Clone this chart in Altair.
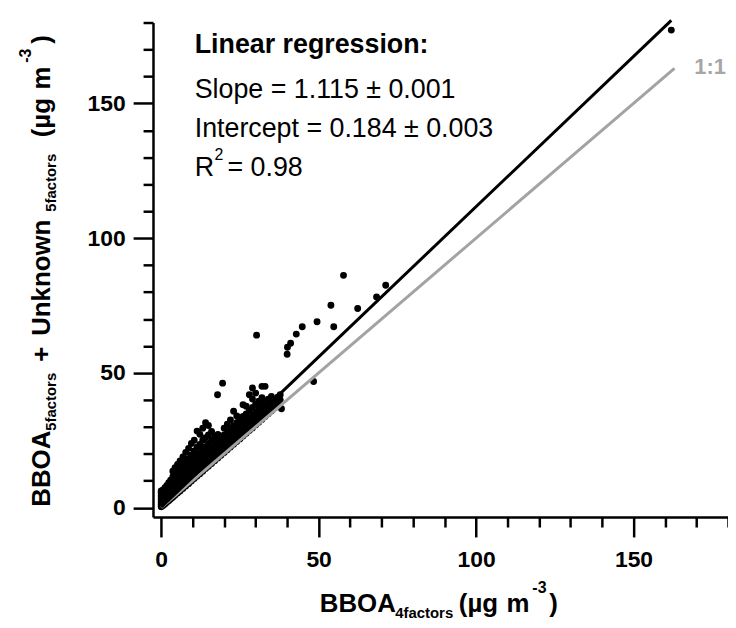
import altair as alt
import pandas as pd

# ---------------- data ----------------
# dense band of points: column x positions and the y values seen at each
band_cols = [0.0, 0.6, 1.2, 1.8, 2.4, 3.0, 3.7, 4.4, 5.2, 6.0, 6.9, 7.8, 8.7, 9.6,
             10.5, 11.4, 12.3, 13.2, 14.1, 15.0, 16.0, 17.0, 18.0, 19.0, 20.0,
             21.0, 22.0, 23.0, 24.0, 25.0, 26.0, 27.0, 28.0, 29.0, 30.0, 31.0,
             32.0, 33.0, 34.0, 35.0, 36.0, 37.0, 37.8]
band_rows = [
    [0.3, 1.2, 2.2, 3.2, 4.3, 5.4, 6.2],
    [0.8, 1.8, 2.8, 3.9, 5.0, 6.6],
    [1.4, 2.4, 3.5, 4.6, 5.8, 7.4],
    [2.0, 3.0, 4.1, 5.3, 6.6, 8.2],
    [2.6, 3.6, 4.7, 6.0, 7.4, 9.3],
    [3.2, 4.2, 5.3, 6.6, 8.1, 10.2],
    [3.9, 4.9, 6.1, 7.4, 9.0, 11.5, 13.5],
    [4.6, 5.6, 6.8, 8.2, 9.9, 12.4, 14.8],
    [5.4, 6.4, 7.7, 9.1, 11.0, 13.4, 16.0],
    [6.2, 7.3, 8.5, 10.0, 12.0, 14.5, 17.3],
    [7.1, 8.2, 9.5, 11.1, 13.0, 15.8, 18.8],
    [8.0, 9.1, 10.5, 12.1, 14.2, 17.0, 20.5],
    [8.9, 10.1, 11.5, 13.2, 15.3, 18.2, 22.0],
    [9.9, 11.1, 12.6, 14.3, 16.6, 19.6, 23.8],
    [10.8, 12.1, 13.6, 15.5, 17.8, 21.0, 25.0],
    [11.7, 13.0, 14.6, 16.6, 19.0, 22.4, 28.4],
    [12.6, 14.0, 15.7, 17.7, 20.2, 23.5, 27.2],
    [13.5, 14.9, 16.7, 18.8, 21.5, 25.0, 29.5],
    [14.5, 15.9, 17.7, 19.9, 22.6, 26.0, 31.5],
    [15.4, 16.9, 18.7, 21.0, 23.8, 27.0, 30.5],
    [16.4, 17.9, 19.8, 22.2, 25.0, 28.3],
    [17.4, 19.0, 21.0, 23.4, 26.4],
    [18.4, 20.0, 22.1, 24.6, 27.2],
    [19.4, 21.1, 23.2, 25.8, 26.5],
    [20.5, 22.2, 24.4, 27.0, 29.5],
    [21.5, 23.3, 25.5, 28.2, 31.0],
    [22.5, 24.4, 26.6, 29.3, 32.5],
    [23.5, 25.4, 27.7, 30.4, 35.8],
    [24.5, 26.5, 28.8, 31.5, 34.0],
    [25.5, 27.6, 30.0, 32.7],
    [26.6, 28.6, 31.0, 33.8, 38.2],
    [27.6, 29.7, 32.1, 34.8, 37.6],
    [28.6, 30.8, 33.2, 36.0, 41.9],
    [29.6, 31.8, 34.3, 37.2, 40.3, 44.4],
    [30.7, 32.9, 35.4, 38.4, 42.5],
    [31.7, 34.0, 36.6, 39.5],
    [32.7, 35.2, 37.8, 40.8, 45.0],
    [33.8, 36.3, 39.0, 45.0],
    [34.8, 37.5, 40.2],
    [35.9, 38.6, 41.3],
    [37.0, 39.8],
    [38.5, 41.0],
    [40.0, 41.9],
]

# isolated points
out_x = [57.9, 71.3, 68.4, 53.9, 62.4, 49.5, 44.8, 54.8, 42.9, 30.3, 41.1, 40.1,
         40.0, 48.4, 38.2, 19.5, 17.9, 162.0]
out_y = [86.2, 82.5, 78.2, 75.1, 73.9, 69.0, 67.1, 67.1, 64.4, 64.0, 61.0, 59.5,
         56.9, 46.8, 36.7, 46.2, 41.9, 177.2]

# regression and 1:1 lines
slope = 1.115
intercept = 0.184
fit_x = [0.0, 162.0]
one_x = [0.0, 163.0]

major_ticks = [0, 50, 100, 150]
minor_ticks = [10, 20, 30, 40, 60, 70, 80, 90, 110, 120, 130, 140, 160, 170, 180]

# ---------------- tables ----------------
pts_x, pts_y = [], []
for cx, ys in zip(band_cols, band_rows):
    for yy in ys:
        pts_x.append(cx)
        pts_y.append(yy)
pts = pd.DataFrame({"x": pts_x + out_x, "y": pts_y + out_y})
fit = pd.DataFrame({"x": fit_x, "y": [intercept + slope * v for v in fit_x]})
one = pd.DataFrame({"x": one_x, "y": one_x})
lab11 = pd.DataFrame({"x": [169.3], "y": [163.5], "t": ["1:1"]})

FONT = "Liberation Sans"
OX, OY = 154, 20.5  # page position of the plot origin

major_common = dict(
    values=major_ticks,
    tickSize=20,
    tickWidth=2.5,
    tickColor="black",
    domainColor="black",
    domainWidth=2.5,
    labelFont=FONT,
    labelFontSize=23,
    labelFontWeight="bold",
    labelColor="black",
    labelOverlap=False,
    labelFlush=False,
    grid=False,
    title=None,
)
minor_common = dict(
    values=minor_ticks,
    tickSize=10,
    tickWidth=2.5,
    tickColor="black",
    domain=False,
    labels=False,
    grid=False,
    title=None,
)

xs = alt.Scale(domain=[-2.6, 180], nice=False, zero=False)
ys_ = alt.Scale(domain=[-3.5, 180], nice=False, zero=False)

points = alt.Chart(pts).mark_circle(size=48, color="black", opacity=1).encode(
    x=alt.X("x:Q", scale=xs, axis=alt.Axis(orient="bottom", labelPadding=12, **major_common)),
    y=alt.Y("y:Q", scale=ys_, axis=alt.Axis(orient="left", labelPadding=8, **major_common)),
)
fit_line = alt.Chart(fit).mark_line(color="black", strokeWidth=3).encode(
    x=alt.X("x:Q", axis=None), y=alt.Y("y:Q", axis=None)
)
one_line = alt.Chart(one).mark_line(color="#a3a3a3", strokeWidth=3).encode(
    x=alt.X("x:Q", axis=alt.Axis(orient="bottom", **minor_common)),
    y=alt.Y("y:Q", axis=alt.Axis(orient="left", **minor_common)),
)
one_lab = alt.Chart(lab11).mark_text(
    align="left", baseline="middle", font=FONT, fontSize=22, fontWeight="bold", color="#a6a6a6"
).encode(x=alt.X("x:Q", axis=None), y=alt.Y("y:Q", axis=None), text="t:N")


def txt(s, px, py, size, weight="normal", angle=0, color="black"):
    return alt.Chart(alt.Data(values=[{}])).mark_text(
        text=s, align="left", baseline="alphabetic", font=FONT, fontSize=size,
        fontWeight=weight, angle=angle, color=color,
    ).encode(x=alt.value(px - OX), y=alt.value(py - OY))


texts = [
    # regression box
    txt("Linear regression:", 196, 51, 27, "bold"),
    txt("Slope = 1.115 \u00b1 0.001", 196, 96, 27),
    txt("Intercept = 0.184 \u00b1 0.003", 196, 136, 27),
    txt("R", 196, 175, 27),
    txt("2", 216, 159, 16),
    txt("= 0.98", 229, 175, 27),
    # x title
    txt("BBOA", 322, 614, 26, "bold"),
    txt("4factors", 398, 620, 15, "bold"),
    txt("(\u00b5g", 462, 614, 26, "bold"),
    txt("m", 510, 614, 26, "bold"),
    txt("-3", 536, 595, 16, "bold"),
    txt(")", 553, 614, 26, "bold"),
    # y title (rotated)
    txt("BBOA", 50, 508, 26, "bold", 270),
    txt("5factors", 56, 431.5, 15, "bold", 270),
    txt("+", 50, 362, 26, "bold", 270),
    txt("Unknown", 50, 336, 26, "bold", 270),
    txt("5factors", 56, 211, 15, "bold", 270),
    txt("(\u00b5g", 50, 136, 26, "bold", 270),
    txt("m", 50, 88, 26, "bold", 270),
    txt("-3", 31, 61, 16, "bold", 270),
    txt(")", 50, 42, 26, "bold", 270),
]

chart = alt.layer(points, one_line, fit_line, one_lab, *texts).resolve_axis(
    x="independent", y="independent"
).properties(
    width=579,
    height=498,
    autosize=alt.AutoSizeParams(type="none"),
    padding={"left": OX - 8, "top": OY - 8, "right": 0, "bottom": 101},
).configure_view(stroke=None)

chart.save("out.html", embed_options={"renderer": "svg", "actions": False})
